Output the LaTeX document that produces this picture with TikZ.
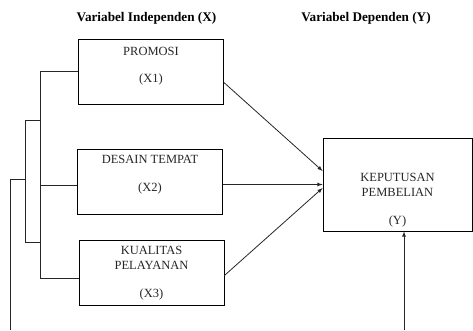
\documentclass[tikz,border=0pt]{standalone}
\usepackage{fontspec}
\setmainfont{Liberation Serif}
\usepackage{tikz}
\usetikzlibrary{arrows,positioning}

\begin{document}
\begin{tikzpicture}[>=latex, x=1pt, y=1pt]
  \tikzstyle{varBox} = [draw, line width=0.8pt, rectangle, minimum width=145pt, minimum height=65pt, inner sep=0pt];
  \tikzstyle{depBox} = [varBox, minimum width=149pt, minimum height=93pt];
  \tikzstyle{boxLabel} = [align=center, text=black!85, font={\fontsize{12.5}{15}\selectfont}];
  \tikzstyle{titleLabel} = [font={\fontsize{13.2}{15}\selectfont\bfseries}];
  \tikzstyle{linkEdge} = [black!85, line width=0.8pt];
  \tikzstyle{arrowEdge} = [linkEdge, ->];

  \useasboundingbox (0,0) rectangle (473,-330);

  \node[titleLabel] (titleX) at (146.5,-18) {Variabel Independen (X)};
  \node[titleLabel] (titleY) at (366,-18)   {Variabel Dependen (Y)};

  \node[varBox] (x1) at (151,-71.5)  {};
  \node[varBox] (x2) at (150,-181.5) {};
  \node[varBox] (x3) at (151.5,-272.5) {};
  \node[depBox] (y)  at (397.5,-184.5) {};

  \node[boxLabel] at ([yshift=5pt]x1.center)   {PROMOSI\\[12pt](X1)};
  \node[boxLabel] at ([yshift=6.5pt]x2.center) {DESAIN TEMPAT\\[13pt](X2)};
  \node[boxLabel] at ([yshift=-1pt]x3.center)  {KUALITAS\\PELAYANAN\\[13pt](X3)};
  \node[boxLabel] at ([yshift=-16pt]y.center)  {KEPUTUSAN\\PEMBELIAN\\[13pt](Y)};

  % bracket on the left
  \coordinate (s1) at (40,-71.5);
  \coordinate (s2) at (40,-185.5);
  \coordinate (s3) at (40,-278);
  \coordinate (b1) at (25,-120);
  \coordinate (b2) at (25,-242);
  \coordinate (b3) at (25,-179);
  \coordinate (o1) at (10,-179);
  \coordinate (o2) at (10,-330);
  \coordinate (ybase) at (404,-330);

  \draw[linkEdge] (x1.west) -- (s1) -- (s3) -- (s3 -| x3.west);
  \draw[linkEdge] (s2) -- (s2 -| x2.west);
  \draw[linkEdge] (b1 -| s1) -- (b1) -- (b2) -- (b2 -| s1);
  \draw[linkEdge] (b3) -- (o1) -- (o2);

  % arrows into Y
  \draw[arrowEdge] ([yshift=-11pt]x1.east) -- ([yshift=13.5pt]y.west);
  \draw[arrowEdge] (x2.east |- y.west) -- (y.west);
  \draw[arrowEdge] ([yshift=-3pt]x3.east) -- ([yshift=-3.5pt]y.west);
  \draw[arrowEdge] (ybase) -- (ybase |- y.south);
\end{tikzpicture}
\end{document}
